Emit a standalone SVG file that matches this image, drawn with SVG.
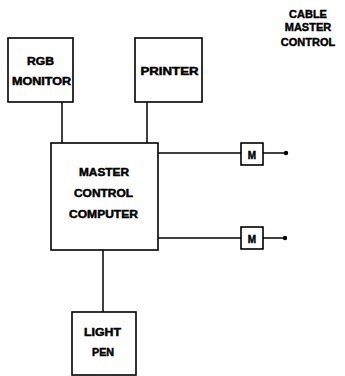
<svg xmlns="http://www.w3.org/2000/svg" width="345" height="376" viewBox="0 0 345 376">
<style>
.box{fill:#fff;stroke:#000;stroke-width:1.6}
.ln{stroke:#000;stroke-width:1.5;fill:none}
.t{font-family:"Liberation Sans",Arial,sans-serif;font-weight:bold;font-size:10px;fill:#000;stroke:#000;stroke-width:0.45;text-anchor:middle}
.h{font-family:"Liberation Sans",Arial,sans-serif;font-weight:bold;font-size:11px;fill:#000;stroke:#000;stroke-width:0.45;text-anchor:middle}
</style>
<rect width="345" height="376" fill="#fff"/>
<g id="connectors">
<line class="ln" x1="62" y1="102" x2="62" y2="143"/>
<line class="ln" x1="147" y1="102" x2="147" y2="143"/>
<line class="ln" x1="158" y1="153" x2="241" y2="153"/>
<line class="ln" x1="263" y1="153" x2="285" y2="153"/>
<circle cx="286" cy="153" r="2.2" fill="#000"/>
<line class="ln" x1="158" y1="238" x2="241" y2="238"/>
<line class="ln" x1="263" y1="238" x2="285" y2="238"/>
<circle cx="285" cy="238" r="2.2" fill="#000"/>
<line class="ln" x1="103" y1="250" x2="103" y2="312"/>
</g>
<g id="title">
<text class="h" x="308" y="18">CABLE</text>
<text class="h" x="308" y="31">MASTER</text>
<text class="h" x="308" y="46">CONTROL</text>
</g>
<g id="rgb-monitor">
<rect class="box" x="8" y="38" width="65" height="64"/>
<text class="t" x="40.5" y="65" textLength="27" lengthAdjust="spacingAndGlyphs">RGB</text>
<text class="t" x="41.5" y="85" textLength="59" lengthAdjust="spacingAndGlyphs">MONITOR</text>
</g>
<g id="printer">
<rect class="box" x="135" y="38" width="67" height="64"/>
<text class="t" x="169.5" y="75" textLength="58" lengthAdjust="spacingAndGlyphs">PRINTER</text>
</g>
<g id="master-control-computer">
<rect class="box" x="51" y="143" width="107" height="107"/>
<text class="t" x="104" y="176" textLength="50" lengthAdjust="spacingAndGlyphs">MASTER</text>
<text class="t" x="103.5" y="197" textLength="59" lengthAdjust="spacingAndGlyphs">CONTROL</text>
<text class="t" x="103.5" y="218" textLength="69" lengthAdjust="spacingAndGlyphs">COMPUTER</text>
</g>
<g id="m1">
<rect class="box" x="241" y="143" width="22" height="22"/>
<text class="t" x="252" y="158.5" font-size="12">M</text>
</g>
<g id="m2">
<rect class="box" x="241" y="227" width="22" height="22"/>
<text class="t" x="252" y="242.5" font-size="12">M</text>
</g>
<g id="light-pen">
<rect class="box" x="72" y="312" width="64" height="63"/>
<text class="t" x="102.5" y="336" textLength="37" lengthAdjust="spacingAndGlyphs">LIGHT</text>
<text class="t" x="103" y="356" textLength="22" lengthAdjust="spacingAndGlyphs">PEN</text>
</g>
</svg>
